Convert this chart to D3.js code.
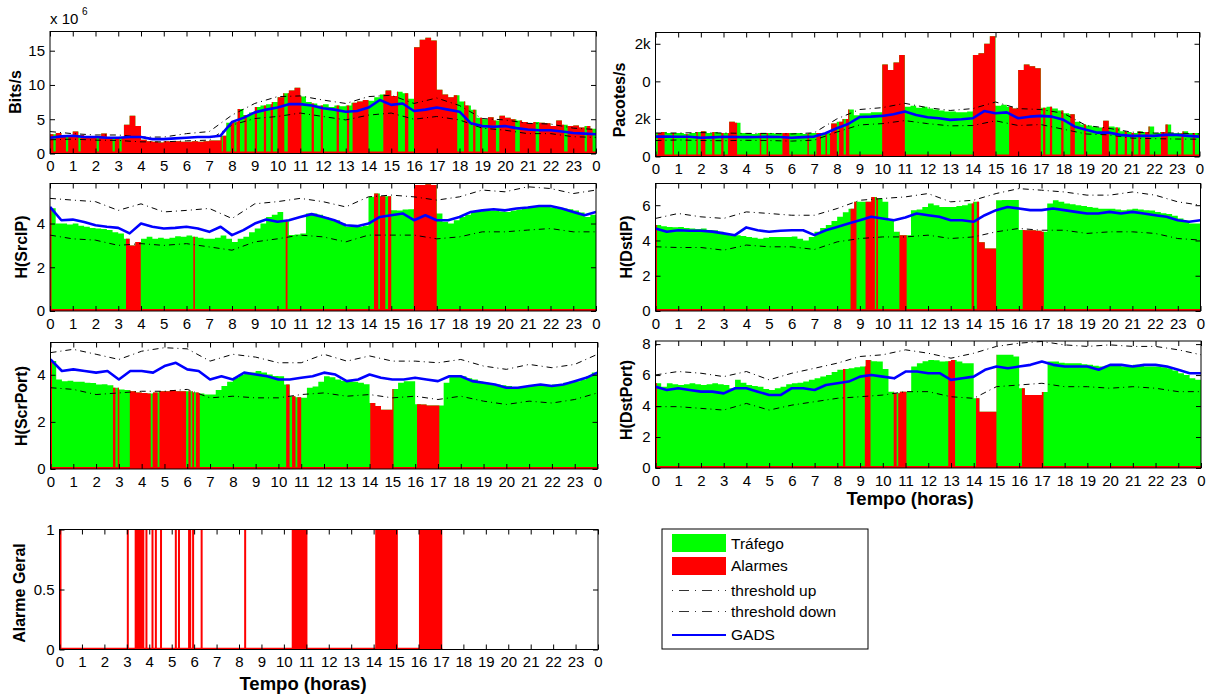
<!DOCTYPE html>
<html>
<head>
<meta charset="utf-8">
<script src="https://cdn.jsdelivr.net/npm/d3@7"></script>
<style>
  body { margin: 0; background: #fff; }
  svg { display: block; font-family: "Liberation Sans", Arial, Helvetica, sans-serif; }
</style>
</head>
<body>
<svg id="chart" width="1210" height="697"></svg>
<script>

// ---- data (hours 0..24) ----
// traffic every 15 min (97 values), GADS every 30 min (49), thresholds every hour (25)

var bitsTraffic = [
 2.8,3.0,2.6,2.5, 3.2,2.7,2.4,2.3, 2.5,2.9,2.3,2.2, 2.3,4.2,5.5,4.0,
 2.0,1.8,1.7,1.6, 1.8,1.7,1.8,1.7, 1.7,1.8,1.7,1.8, 1.9,1.9,2.6,4.5,
 4.6,6.5,5.6,6.0, 6.8,7.0,7.2,7.5, 8.2,8.8,9.2,9.6, 8.3,7.5,7.3,7.0,
 7.2,6.8,7.0,6.9, 7.0,7.4,7.6,7.8, 7.7,8.2,8.6,9.2, 8.4,9.0,8.8,8.0,
 15.5,16.6,16.9,16.5, 9.3,8.6,8.2,8.5, 7.6,7.0,6.4,5.2, 5.0,5.3,4.8,5.5,
 5.2,5.0,4.8,4.6, 4.4,4.6,4.5,4.4, 4.0,4.8,4.2,4.0, 4.1,3.8,4.0,3.6,
 3.3];
var bitsGads = [2.3,2.5,2.6,2.4,2.4,2.3,2.3,2.4,2.4,2.1,2.1,2.2,2.3,2.4,2.4,2.6,4.6,5.2,6.0,6.4,
 6.7,7.2,7.2,7.0,6.6,6.4,6.1,6.2,6.7,7.8,7.1,7.3,6.2,6.4,6.7,6.4,6.1,4.4,4.0,3.9,
 4.0,3.7,3.5,3.4,3.4,3.2,3.0,2.9,2.8];
var bitsUp = [3.2,2.9,2.7,2.7,2.4,2.4,2.9,3.2,5.6,7.3,8.3,8.4,7.8,7.3,8.3,8.5,7.3,8.1,7.0,5.1,4.9,4.4,4.3,3.7,3.5];
var bitsDown = [2.0,2.1,1.95,1.9,1.7,1.7,1.85,1.95,4.15,5.1,5.4,5.9,5.4,4.9,5.6,5.9,5.0,5.4,4.9,3.7,3.4,2.9,2.9,2.45,2.35];
var bitsAlarms = [[0,0.15],[0.25,0.7],[0.8,1.25],[1.35,2.05],[2.15,2.75],[2.85,3.05],[3.15,7.55],[7.6,7.75],
 [7.95,8.1],[8.2,8.35],[8.55,8.65],[9.0,9.1],[9.4,9.5],[9.7,9.8],[10.0,10.3],[10.45,11.05],[11.5,11.6],
 [11.9,12.0],[12.6,12.7],[13.05,13.15],[13.3,14.0],[14.65,15.3],[15.6,15.75],[16.0,17.9],[18.2,18.4],
 [18.6,18.7],[18.9,19.0],[19.25,19.6],[19.75,20.45],[20.65,21.35],[21.5,22.6],[22.75,23.5],[23.6,23.85]];
var bitsTicks = [0, 5, 10, 15];
var bitsTickLabels = ["0", "5", "10", "15"];

var ppsTraffic = [
 1250,1300,1250,1250, 1250,1200,1250,1300, 1350,1250,1300,1250, 1250,1850,1800,1250,
 1250,1200,1250,1250, 1250,1200,1250,1250, 1250,1250,1200,1250, 1250,1250,1250,1750,
 1850,2000,2500,2200, 2300,2300,2350,2350, 4900,4600,5000,5400, 2650,2700,2600,2650,
 2550,2500,2450,2400, 2400,2350,2350,2400, 5400,5500,6000,6400, 2700,2750,2650,2550,
 4600,4900,4800,4700, 2600,2650,2550,2450, 2300,2250,1850,1700, 1650,1600,1550,1900,
 1600,1550,1350,1300, 1250,1350,1300,1600, 1250,1300,1700,1250, 1250,1350,1250,1250,
 1200];
var ppsGads = [1060,1060,1050,1050,1000,1020,1050,1040,1030,1040,1050,1040,1000,1030,1060,1240,1500,1730,2100,2120,
 2160,2250,2390,2210,2090,2035,1950,1980,2035,2420,2300,2350,2035,2120,2160,2120,1950,1590,1420,1270,
 1270,1150,1100,1100,1100,1150,1150,1100,1060];
var ppsUp = [1250,1250,1270,1250,1230,1230,1200,1260,2000,2500,2600,2830,2600,2450,2550,2900,2550,2500,2300,1650,1500,1300,1250,1250,1200];
var ppsDown = [850,880,850,840,860,850,820,870,1300,1680,1750,1910,1750,1630,1650,1900,1650,1700,1450,1200,1150,980,950,930,920];
var ppsAlarms = [[0.1,0.4],[0.75,0.8],[1.35,1.4],[1.8,1.85],[2.0,2.2],[2.5,2.6],[2.9,3.0],[3.2,3.6],[4.6,4.65],
 [4.9,4.95],[5.6,5.9],[6.7,6.75],[7.1,7.3],[7.5,7.55],[7.7,8.0],[8.1,8.3],[8.4,8.55],[10.0,11.0],[14.0,15.0],
 [15.6,17.0],[17.1,17.2],[17.4,17.5],[17.9,18.0],[18.3,18.5],[18.9,19.0],[19.7,20.0],[20.3,20.4],[20.7,20.8],
 [21.0,21.1],[21.3,21.4],[21.6,21.8],[22.3,22.6],[23.2,23.3],[23.7,23.8]];
var ppsTicks = [0, 2000, 4000, 6000];
var ppsTickLabels = ["0", "2k", "0", "2k"];

var srcTraffic = [
 4.7,4.0,4.0,3.95, 4.0,3.9,3.85,3.8, 3.77,3.75,3.7,3.6, 3.54,3.3,3.0,3.16,
 3.3,3.4,3.3,3.35, 3.3,3.35,3.42,3.4, 3.45,3.4,3.35,3.3, 3.3,3.35,3.45,3.3,
 3.16,3.3,3.4,3.6, 3.77,4.0,4.3,4.4, 4.53,4.1,3.47,3.5, 3.54,4.46,4.46,4.4,
 4.3,4.2,4.15,4.0, 3.85,3.85,3.85,3.9, 5.22,5.37,5.25,5.25, 4.61,4.6,4.64,4.65,
 5.76,5.76,5.8,5.76, 4.46,4.08,4.0,4.15, 4.3,4.4,4.53,4.55, 4.6,4.6,4.6,4.55,
 4.53,4.6,4.64,4.7, 4.76,4.76,4.76,4.75, 4.73,4.7,4.69,4.65, 4.6,4.5,4.3,4.4,
 4.46];
var srcGads = [4.76,4.15,4.18,4.07,3.92,3.85,3.8,3.55,4.0,3.85,3.77,3.8,3.85,3.77,3.62,3.85,3.47,3.7,4.0,4.18,
 4.08,4.15,4.3,4.43,4.3,4.15,3.92,3.88,4.0,4.3,4.38,4.46,4.15,4.38,4.15,4.15,4.3,4.53,4.6,4.65,
 4.6,4.69,4.73,4.8,4.8,4.69,4.53,4.38,4.53];
var srcUp = [5.15,5.07,5.0,4.6,4.9,4.53,4.6,4.69,4.23,4.9,5.0,5.15,5.0,4.76,5.22,5.3,5.22,5.07,5.22,5.53,5.45,5.68,5.6,5.37,5.53];
var srcDown = [3.47,3.3,3.24,3.0,3.08,3.0,3.08,2.93,2.78,3.16,3.3,3.47,3.39,3.16,3.47,3.47,3.47,3.3,3.39,3.62,3.62,3.7,3.77,3.62,3.62];
var srcAlarms = [[0,0.05],[3.34,3.99],[6.3,6.37],[10.36,10.44],[14.24,14.43],[14.5,14.74],[14.86,15.0],[15.99,17.0]];
var srcTicks = [0, 2, 4];
var srcTickLabels = ["0", "2", "4"];

var dstipTraffic = [
 4.87,4.8,4.77,4.75, 4.77,4.7,4.68,4.65, 4.68,4.6,4.58,4.5, 4.43,4.3,4.3,4.25,
 4.2,4.15,4.1,4.15, 4.2,4.2,4.2,4.2, 4.23,4.1,4.0,4.2, 4.5,4.7,4.87,5.1,
 5.34,5.6,5.8,6.19, 6.19,6.2,6.47,6.38, 6.19,5.15,4.49,4.3, 4.3,5.72,5.75,5.9,
 6.09,6.0,5.9,5.9, 5.9,5.95,6.0,6.1, 6.19,3.9,3.55,3.55, 6.28,6.3,6.3,6.3,
 4.6,4.58,4.58,4.55, 4.5,6.1,6.28,6.2, 6.1,6.05,6.0,5.95, 5.9,5.85,5.8,5.8,
 5.8,5.75,5.72,5.75, 5.8,5.75,5.72,5.7, 5.62,5.55,5.5,5.4, 5.25,5.1,4.96,4.96,
 4.96];
var dstipGads = [4.68,4.49,4.58,4.55,4.55,4.5,4.4,4.3,4.74,4.58,4.49,4.55,4.58,4.58,4.3,4.58,4.77,4.96,5.15,5.34,
 5.25,5.15,5.3,5.53,5.43,5.34,5.15,5.15,5.06,5.43,5.72,5.9,5.81,5.72,5.72,5.81,5.72,5.62,5.53,5.53,
 5.62,5.53,5.62,5.53,5.43,5.34,5.15,5.06,5.15];
var dstipUp = [5.25,5.53,5.34,5.25,5.62,5.53,5.43,5.43,5.81,6.28,6.38,6.47,6.66,6.19,6.28,6.66,6.94,6.85,6.75,6.57,6.57,6.75,6.57,6.19,6.0];
var dstipDown = [3.64,3.6,3.6,3.45,3.74,3.64,3.64,3.49,3.92,4.11,4.2,4.2,4.3,4.11,4.2,4.49,4.68,4.58,4.58,4.4,4.49,4.49,4.4,4.11,4.02];
var dstipAlarms = [[0,0.05],[8.59,8.85],[9.25,9.66],[9.72,9.8],[10.74,11.06],[13.92,14.03],[14.15,15.0],[16.17,17.1]];
var dstipTicks = [0, 2, 4, 6];
var dstipTickLabels = ["0", "2", "4", "6"];

var spTraffic = [
 4.58,3.8,3.73,3.75, 3.7,3.7,3.66,3.65, 3.59,3.6,3.55,3.45, 3.38,3.35,3.3,3.25,
 3.23,3.2,3.25,3.3, 3.3,3.35,3.3,3.3, 3.3,3.25,3.2,3.16, 3.16,3.35,3.52,3.7,
 3.87,4.0,4.08,4.1, 4.16,4.1,4.01,3.95, 3.94,3.59,3.09,3.05, 3.02,3.45,3.5,3.7,
 3.94,3.9,3.8,3.75, 3.73,3.7,3.66,3.6, 2.8,2.67,2.52,2.52, 3.4,3.66,3.73,3.73,
 2.75,2.74,2.7,2.7, 2.7,3.66,3.94,3.94, 3.94,3.85,3.8,3.7, 3.66,3.6,3.59,3.55,
 3.52,3.48,3.45,3.5, 3.52,3.52,3.52,3.55, 3.59,3.6,3.66,3.7, 3.73,3.8,3.94,4.1,
 4.3];
var spGads = [4.65,4.16,4.23,4.16,4.09,4.16,3.8,4.16,4.16,4.09,4.37,4.51,4.23,4.16,3.8,3.94,3.8,4.09,4.01,3.94,
 3.8,3.8,3.87,3.94,4.09,4.01,3.73,3.8,4.01,3.87,3.8,3.8,3.87,3.8,3.73,3.94,3.94,3.73,3.66,3.59,
 3.45,3.45,3.52,3.59,3.52,3.59,3.73,3.87,4.09];
var spUp = [4.94,5.08,4.87,4.65,5.0,5.15,5.1,4.58,4.87,4.75,4.51,4.51,4.87,4.58,4.8,4.58,4.58,4.51,4.65,4.37,4.23,4.44,4.3,4.44,4.87];
var spDown = [3.45,3.38,3.16,3.23,3.3,3.3,3.38,3.02,3.09,3.02,3.02,3.16,3.23,3.09,3.16,3.02,3.09,2.95,3.09,2.88,2.74,2.88,2.8,2.95,3.23];
var spAlarms = [[0,0.05],[2.74,2.85],[2.95,3.02],[3.48,4.4],[4.48,4.7],[4.78,5.95],[6.05,6.15],[6.22,6.3],[6.38,6.55],
 [10.34,10.49],[10.6,10.75],[10.83,11.0],[14.03,15.05],[16.08,17.06]];
var spTicks = [0, 2, 4];
var spTickLabels = ["0", "2", "4"];

var dpTraffic = [
 5.47,5.25,5.47,5.4, 5.36,5.4,5.47,5.4, 5.36,5.4,5.47,5.4, 5.36,5.15,5.69,5.5,
 5.36,5.3,5.25,5.1, 5.04,5.15,5.25,5.4, 5.47,5.5,5.58,5.7, 5.79,5.9,6.0,6.2,
 6.34,6.4,6.44,6.5, 6.55,6.98,6.9,6.87, 6.4,4.93,4.82,4.93, 4.93,6.55,6.77,6.9,
 6.98,6.95,6.87,6.9, 6.98,6.87,6.77,6.77, 4.5,3.63,3.63,3.63, 7.31,7.31,7.31,7.2,
 5.15,4.71,4.71,4.71, 4.9,6.87,6.87,6.8, 6.77,6.77,6.77,6.7, 6.66,6.6,6.55,6.6,
 6.66,6.6,6.55,6.6, 6.66,6.6,6.55,6.55, 6.55,6.5,6.44,6.3, 6.12,6.0,5.79,5.7,
 5.69];
var dpGads = [5.25,5.04,5.15,5.04,4.93,4.93,4.82,5.15,5.15,4.93,4.71,4.71,5.15,5.15,5.04,5.36,5.47,5.58,5.9,6.01,
 5.9,5.79,6.23,6.23,6.12,6.12,5.69,5.79,5.9,6.34,6.55,6.44,6.55,6.66,6.87,6.66,6.55,6.55,6.55,6.34,
 6.66,6.66,6.55,6.66,6.66,6.55,6.34,6.12,6.12];
var dpUp = [6.01,6.23,6.12,5.9,6.23,5.69,6.12,6.44,6.77,7.2,7.31,7.63,7.41,7.09,7.41,7.85,8.06,8.17,7.95,7.85,7.95,7.85,7.85,7.63,7.31];
var dpDown = [3.96,3.96,3.85,3.74,4.17,3.74,4.06,4.28,4.5,4.6,4.71,4.93,4.93,4.6,4.5,5.25,5.36,5.47,5.25,5.25,5.15,5.25,5.15,4.93,4.93];
var dpAlarms = [[0,0.05],[8.25,8.35],[9.21,9.46],[10.48,10.61],[10.68,11.04],[12.88,13.18],[14.1,15.0],[16.12,17.07]];
var dpTicks = [0, 2, 4, 6, 8];
var dpTickLabels = ["0", "2", "4", "6", "8"];

// general alarm intervals (value 1)
var alarmGeral = [[0,0.07],[3.0,3.05],[3.35,3.78],[3.83,3.9],[4.1,4.17],[4.25,4.32],[4.48,4.55],[5.14,5.21],
 [5.28,5.35],[5.73,5.87],[5.91,5.98],[6.29,6.36],[8.23,8.3],[10.35,11.05],[14.07,15.08],[16.02,17.06]];
var alarmTicks = [0, 0.5, 1];
var alarmTickLabels = ["0", "0.5", "1"];

var hourTicks = d3.range(25);
var legendLabels = ["Tráfego", "Alarmes", "threshold up", "threshold down", "GADS"];

// sample times
var tQuarter = d3.range(97).map(function(i) { return i / 4; });
var tHalf = d3.range(49).map(function(i) { return i / 2; });

var GREEN = "#00ff00", RED = "#ff0000", BLUE = "#0000ff";
var FONT = 15;

var svg = d3.select("#chart");
var defs = svg.append("defs");

// box = [left, right, top, bottom]
var panels = [
  {name: "Bits/s", traffic: bitsTraffic, gads: bitsGads, up: bitsUp, down: bitsDown, alarms: bitsAlarms,
   ymax: 17.8, ticks: bitsTicks, tickLabels: bitsTickLabels, box: [50, 596, 31.5, 153.5], lab: [15, 92]},
  {name: "Pacotes/s", traffic: ppsTraffic, gads: ppsGads, up: ppsUp, down: ppsDown, alarms: ppsAlarms,
   ymax: 6600, ticks: ppsTicks, tickLabels: ppsTickLabels, box: [655.5, 1199.5, 32.5, 156.5], lab: [619, 100]},
  {name: "H(SrcIP)", traffic: srcTraffic, gads: srcGads, up: srcUp, down: srcDown, alarms: srcAlarms,
   ymax: 5.83, ticks: srcTicks, tickLabels: srcTickLabels, box: [50, 596, 183.5, 311], lab: [21, 247]},
  {name: "H(DstIP)", traffic: dstipTraffic, gads: dstipGads, up: dstipUp, down: dstipDown, alarms: dstipAlarms,
   ymax: 7.23, ticks: dstipTicks, tickLabels: dstipTickLabels, box: [655.5, 1200.5, 183.5, 311], lab: [626, 247]},
  {name: "H(ScrPort)", traffic: spTraffic, gads: spGads, up: spUp, down: spDown, alarms: spAlarms,
   ymax: 5.37, ticks: spTicks, tickLabels: spTickLabels, box: [50.5, 597.5, 342.5, 469], lab: [21, 406]},
  {name: "H(DstPort)", traffic: dpTraffic, gads: dpGads, up: dpUp, down: dpDown, alarms: dpAlarms,
   ymax: 8.2, ticks: dpTicks, tickLabels: dpTickLabels, box: [655.5, 1201, 341, 468], lab: [626, 400]}
];

function axes(g, x, y, box, ticks, labels) {
  var b = g.append("g").attr("transform", "translate(0," + box[3] + ")")
    .call(d3.axisBottom(x).tickValues(hourTicks).tickFormat(function(d) { return d % 24; })
      .tickSizeInner(-5).tickSizeOuter(0).tickPadding(7));
  var t = g.append("g").attr("transform", "translate(0," + box[2] + ")")
    .call(d3.axisTop(x).tickValues(hourTicks).tickFormat("").tickSizeInner(-5).tickSizeOuter(0));
  var l = g.append("g").attr("transform", "translate(" + box[0] + ",0)")
    .call(d3.axisLeft(y).tickValues(ticks).tickFormat(function(d, i) { return labels[i]; })
      .tickSizeInner(-5).tickSizeOuter(0).tickPadding(5));
  var r = g.append("g").attr("transform", "translate(" + box[1] + ",0)")
    .call(d3.axisRight(y).tickValues(ticks).tickFormat("").tickSizeInner(-5).tickSizeOuter(0));
  [b, t, l, r].forEach(function(a) {
    a.select(".domain").remove();
    a.attr("font-size", FONT).attr("font-family", null);
    a.selectAll("line").attr("stroke", "#000");
    a.selectAll("text").attr("fill", "#000");
  });
  g.append("rect").attr("x", box[0]).attr("y", box[2])
    .attr("width", box[1] - box[0]).attr("height", box[3] - box[2])
    .attr("fill", "none").attr("stroke", "#000").attr("stroke-width", 1);
}

function yLabel(text, pos) {
  svg.append("text").attr("transform", "translate(" + pos[0] + "," + pos[1] + ") rotate(-90)")
    .attr("text-anchor", "middle").attr("dy", "0.35em")
    .attr("font-size", 16).attr("font-weight", "bold").text(text);
}

panels.forEach(function(p, i) {
  var box = p.box;
  var x = d3.scaleLinear().domain([0, 24]).range([box[0], box[1]]);
  var y = d3.scaleLinear().domain([0, p.ymax]).range([box[3], box[2]]);

  defs.append("clipPath").attr("id", "plot" + i).append("rect")
    .attr("x", box[0]).attr("y", box[2]).attr("width", box[1] - box[0]).attr("height", box[3] - box[2]);
  defs.append("clipPath").attr("id", "alarm" + i).selectAll("rect")
    .data(p.alarms).enter().append("rect")
    .attr("x", function(d) { return x(d[0]); })
    .attr("width", function(d) { return Math.max(1.5, x(d[1]) - x(d[0])); })
    .attr("y", box[2]).attr("height", box[3] - box[2]);

  var g = svg.append("g");
  var plot = g.append("g").attr("clip-path", "url(#plot" + i + ")");

  var area = d3.area().curve(d3.curveStepAfter)
    .x(function(d, j) { return x(tQuarter[j]); })
    .y0(y(0)).y1(function(d) { return y(d); });

  plot.append("path").datum(p.traffic).attr("d", area).attr("fill", GREEN);
  plot.append("path").datum(p.traffic).attr("d", area).attr("fill", RED)
    .attr("clip-path", "url(#alarm" + i + ")");

  var thr = d3.line().x(function(d, j) { return x(hourTicks[j]); }).y(function(d) { return y(d); });
  [p.up, p.down].forEach(function(s) {
    plot.append("path").datum(s).attr("d", thr).attr("fill", "none")
      .attr("stroke", "#000").attr("stroke-width", 1).attr("stroke-dasharray", "6,4,1,4");
  });

  var gl = d3.line().x(function(d, j) { return x(tHalf[j]); }).y(function(d) { return y(d); });
  plot.append("path").datum(p.gads).attr("d", gl).attr("fill", "none")
    .attr("stroke", BLUE).attr("stroke-width", 2.6).attr("stroke-linejoin", "round");

  // alarm baseline at zero
  plot.append("line").attr("x1", box[0]).attr("x2", box[1]).attr("y1", y(0) - 1).attr("y2", y(0) - 1)
    .attr("stroke", RED).attr("stroke-width", 2);

  axes(g, x, y, box, p.ticks, p.tickLabels);
  yLabel(p.name, p.lab);
});

// exponent label of the first panel
svg.append("text").attr("x", 50).attr("y", 24).attr("font-size", FONT).text("x 10");
svg.append("text").attr("x", 82).attr("y", 15).attr("font-size", 10).text("6");

// ---- general alarm panel ----
(function() {
  var box = [59.5, 598, 529.5, 649.5];
  var x = d3.scaleLinear().domain([0, 24]).range([box[0], box[1]]);
  var y = d3.scaleLinear().domain([0, 1]).range([box[3], box[2]]);
  var g = svg.append("g");
  g.selectAll("rect.al").data(alarmGeral).enter().append("rect").attr("class", "al")
    .attr("x", function(d) { return x(d[0]); })
    .attr("width", function(d) { return Math.max(2, x(d[1]) - x(d[0])); })
    .attr("y", y(1)).attr("height", y(0) - y(1)).attr("fill", RED);
  g.append("line").attr("x1", x(0)).attr("x2", x(17.06)).attr("y1", y(0) - 1).attr("y2", y(0) - 1)
    .attr("stroke", RED).attr("stroke-width", 1.5);
  axes(g, x, y, box, alarmTicks, alarmTickLabels);
  yLabel("Alarme Geral", [19.5, 593]);
})();

// x axis titles
[[910, 499], [303, 684]].forEach(function(c) {
  svg.append("text").attr("x", c[0]).attr("y", c[1]).attr("dy", "0.35em").attr("text-anchor", "middle")
    .attr("font-size", 18.5).attr("font-weight", "bold").text("Tempo (horas)");
});

// ---- legend ----
(function() {
  var lg = svg.append("g");
  lg.append("rect").attr("x", 662).attr("y", 529).attr("width", 206).attr("height", 120)
    .attr("fill", "#fff").attr("stroke", "#000").attr("stroke-width", 1);
  var rows = [544, 566, 590.5, 611.5, 635];
  lg.append("rect").attr("x", 672).attr("y", 534).attr("width", 54).attr("height", 18).attr("fill", GREEN);
  lg.append("rect").attr("x", 672).attr("y", 557).attr("width", 54).attr("height", 18).attr("fill", RED);
  [2, 3].forEach(function(k) {
    lg.append("line").attr("x1", 672).attr("x2", 726).attr("y1", rows[k]).attr("y2", rows[k])
      .attr("stroke", "#333").attr("stroke-width", 1).attr("stroke-dasharray", "1,6,10,6");
  });
  lg.append("line").attr("x1", 672).attr("x2", 726).attr("y1", rows[4]).attr("y2", rows[4])
    .attr("stroke", BLUE).attr("stroke-width", 2);
  lg.selectAll("text.lt").data(legendLabels).enter().append("text").attr("class", "lt")
    .attr("x", 731).attr("y", function(d, i) { return rows[i]; }).attr("dy", "0.35em")
    .attr("font-size", 15.5).text(function(d) { return d; });
})();

</script>
</body>
</html>
